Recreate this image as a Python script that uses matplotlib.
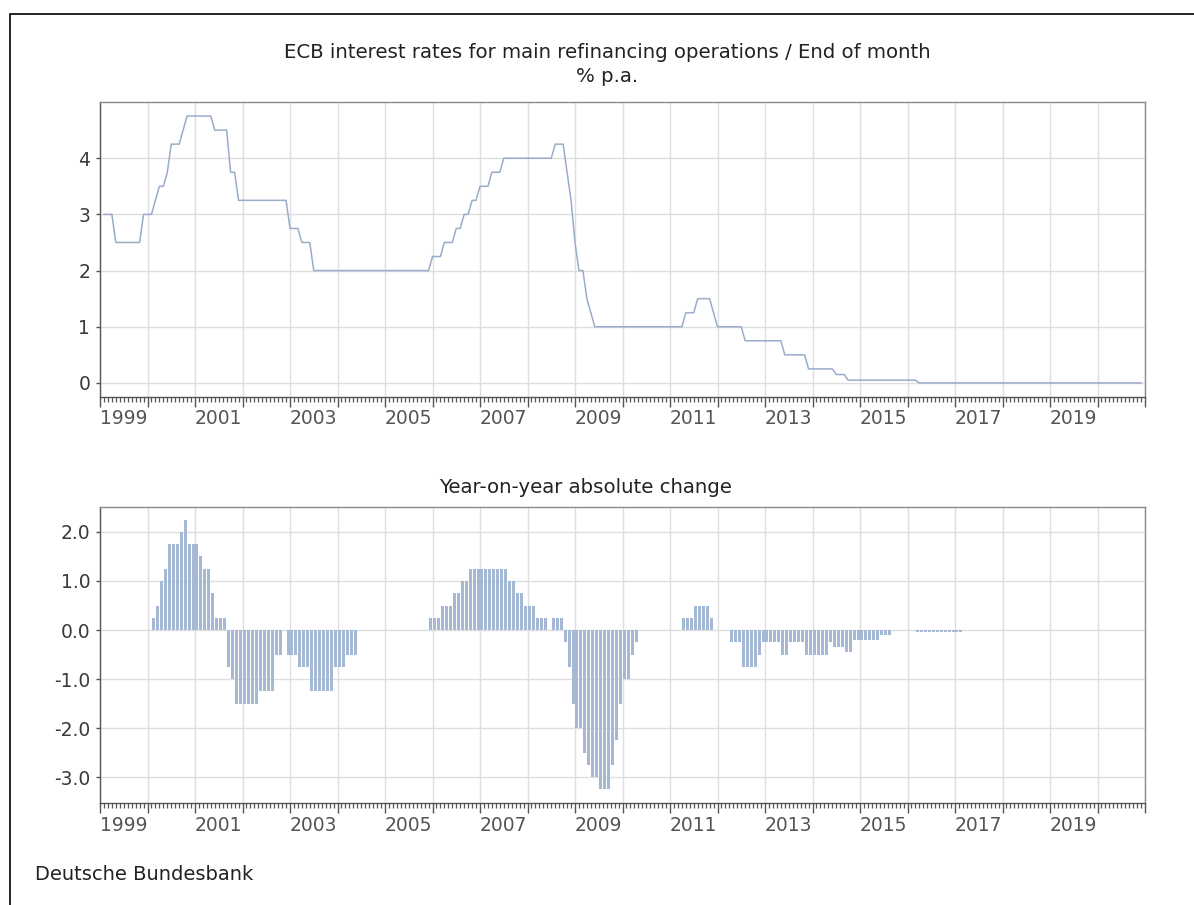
import numpy as np
import matplotlib
matplotlib.use("Agg")
import matplotlib.pyplot as plt
from matplotlib.ticker import MultipleLocator, FixedLocator, FormatStrFormatter, NullFormatter
from matplotlib.transforms import blended_transform_factory
from matplotlib.patches import Rectangle

plt.rcParams["font.family"] = ["DejaVu Sans"]
plt.rcParams["axes.unicode_minus"] = False

# ---- data: ECB main refinancing rate, end of month, % p.a. (Jan 1999 .. Nov 2020)
FIRST_YEAR = 1999
rate_pct = [
    3.00, 3.00, 3.00, 2.50, 2.50, 2.50, 2.50, 2.50, 2.50, 2.50, 3.00, 3.00,  # 1999
    3.00, 3.25, 3.50, 3.50, 3.75, 4.25, 4.25, 4.25, 4.50, 4.75, 4.75, 4.75,  # 2000
    4.75, 4.75, 4.75, 4.75, 4.50, 4.50, 4.50, 4.50, 3.75, 3.75, 3.25, 3.25,  # 2001
    3.25, 3.25, 3.25, 3.25, 3.25, 3.25, 3.25, 3.25, 3.25, 3.25, 3.25, 2.75,  # 2002
    2.75, 2.75, 2.50, 2.50, 2.50, 2.00, 2.00, 2.00, 2.00, 2.00, 2.00, 2.00,  # 2003
    2.00, 2.00, 2.00, 2.00, 2.00, 2.00, 2.00, 2.00, 2.00, 2.00, 2.00, 2.00,  # 2004
    2.00, 2.00, 2.00, 2.00, 2.00, 2.00, 2.00, 2.00, 2.00, 2.00, 2.00, 2.25,  # 2005
    2.25, 2.25, 2.50, 2.50, 2.50, 2.75, 2.75, 3.00, 3.00, 3.25, 3.25, 3.50,  # 2006
    3.50, 3.50, 3.75, 3.75, 3.75, 4.00, 4.00, 4.00, 4.00, 4.00, 4.00, 4.00,  # 2007
    4.00, 4.00, 4.00, 4.00, 4.00, 4.00, 4.25, 4.25, 4.25, 3.75, 3.25, 2.50,  # 2008
    2.00, 2.00, 1.50, 1.25, 1.00, 1.00, 1.00, 1.00, 1.00, 1.00, 1.00, 1.00,  # 2009
    1.00, 1.00, 1.00, 1.00, 1.00, 1.00, 1.00, 1.00, 1.00, 1.00, 1.00, 1.00,  # 2010
    1.00, 1.00, 1.00, 1.25, 1.25, 1.25, 1.50, 1.50, 1.50, 1.50, 1.25, 1.00,  # 2011
    1.00, 1.00, 1.00, 1.00, 1.00, 1.00, 0.75, 0.75, 0.75, 0.75, 0.75, 0.75,  # 2012
    0.75, 0.75, 0.75, 0.75, 0.50, 0.50, 0.50, 0.50, 0.50, 0.50, 0.25, 0.25,  # 2013
    0.25, 0.25, 0.25, 0.25, 0.25, 0.15, 0.15, 0.15, 0.05, 0.05, 0.05, 0.05,  # 2014
    0.05, 0.05, 0.05, 0.05, 0.05, 0.05, 0.05, 0.05, 0.05, 0.05, 0.05, 0.05,  # 2015
    0.05, 0.05, 0.00, 0.00, 0.00, 0.00, 0.00, 0.00, 0.00, 0.00, 0.00, 0.00,  # 2016
    0.00, 0.00, 0.00, 0.00, 0.00, 0.00, 0.00, 0.00, 0.00, 0.00, 0.00, 0.00,  # 2017
    0.00, 0.00, 0.00, 0.00, 0.00, 0.00, 0.00, 0.00, 0.00, 0.00, 0.00, 0.00,  # 2018
    0.00, 0.00, 0.00, 0.00, 0.00, 0.00, 0.00, 0.00, 0.00, 0.00, 0.00, 0.00,  # 2019
    0.00, 0.00, 0.00, 0.00, 0.00, 0.00, 0.00, 0.00, 0.00, 0.00, 0.00,        # 2020
]
year_labels = list(range(1999, 2021, 2))
top_yticks = [0, 1, 2, 3, 4]
bottom_yticks = [-3.0, -2.0, -1.0, 0.0, 1.0, 2.0]

rate = np.array(rate_pct)
# month-end positions for the level, mid-month for the change bars
x_level = FIRST_YEAR + (np.arange(len(rate)) + 1) / 12.0
yoy = np.round(rate[12:] - rate[:-12], 2)
x_yoy = FIRST_YEAR + 1 + (np.arange(len(yoy)) + 0.5) / 12.0

LINE_COL = "#9aacca"
BAR_COL = "#a5b8d4"
GRID_COL = "#dedede"
TEXT_COL = "#3a3a3a"
FS = 13.5
TITLE_FS = 14.2

W, H = 1194, 905
fig = plt.figure(figsize=(W / 100, H / 100), dpi=100)
ax_top = fig.add_axes([100 / W, 1 - 397 / H, 1045 / W, 295 / H])
ax_bot = fig.add_axes([100 / W, 1 - 803 / H, 1045 / W, 296 / H])


def style_axes(ax):
    ax.set_xlim(1999, 2021)
    ax.xaxis.set_major_locator(MultipleLocator(1))
    ax.xaxis.set_minor_locator(FixedLocator(
        [FIRST_YEAR + m / 12.0 for m in range(22 * 12 + 1) if m % 12]))
    ax.xaxis.set_major_formatter(NullFormatter())
    ax.tick_params(axis="x", which="major", length=7, width=1.0, color="#555555")
    ax.tick_params(axis="x", which="minor", length=3.5, width=0.9, color="#555555")
    ax.tick_params(axis="y", which="major", length=3, width=1.0, color="#555555",
                   labelsize=FS, labelcolor=TEXT_COL, pad=4)
    ax.grid(True, which="major", color=GRID_COL, lw=1.0)
    ax.set_axisbelow(True)
    for side in ("left", "bottom"):
        ax.spines[side].set_color("#555555")
        ax.spines[side].set_linewidth(1.0)
    for side in ("top", "right"):
        ax.spines[side].set_color("#8a8a8a")
        ax.spines[side].set_linewidth(1.0)
    trans = blended_transform_factory(ax.transData, ax.transAxes)
    for yr in year_labels:
        ax.annotate(str(yr), xy=(yr + 0.5, 0), xycoords=trans,
                    xytext=(0, -9), textcoords="offset points",
                    ha="center", va="top", fontsize=FS, color="#555555")


# upper panel: rate level
ax_top.plot(x_level, rate, color=LINE_COL, lw=1.1)
ax_top.set_ylim(-0.25, 5.0)
ax_top.yaxis.set_major_locator(FixedLocator(top_yticks))
style_axes(ax_top)

# lower panel: year-on-year change
ax_bot.bar(x_yoy, yoy, width=0.75 / 12, color=BAR_COL, linewidth=0)
ax_bot.set_ylim(-3.53, 2.51)
ax_bot.yaxis.set_major_locator(FixedLocator(bottom_yticks))
ax_bot.yaxis.set_major_formatter(FormatStrFormatter("%.1f"))
style_axes(ax_bot)

fig.text(607 / W, 1 - 52 / H, "ECB interest rates for main refinancing operations / End of month",
         ha="center", va="center", fontsize=TITLE_FS, color="#222222")
fig.text(607 / W, 1 - 77 / H, "% p.a.", ha="center", va="center",
         fontsize=TITLE_FS, color="#222222")
fig.text(586 / W, 1 - 487 / H, "Year-on-year absolute change",
         ha="center", va="center", fontsize=TITLE_FS, color="#222222")
fig.text(35 / W, 1 - 874 / H, "Deutsche Bundesbank", ha="left", va="center",
         fontsize=14, color="#222222")

# outer frame (open to the right and bottom)
fig.patches.append(Rectangle((9.5 / W, -0.05), 1.2, 1 - 14 / H + 0.05,
                             transform=fig.transFigure, fill=False,
                             edgecolor="black", lw=1.2))

fig.savefig("out.png", dpi=100)
